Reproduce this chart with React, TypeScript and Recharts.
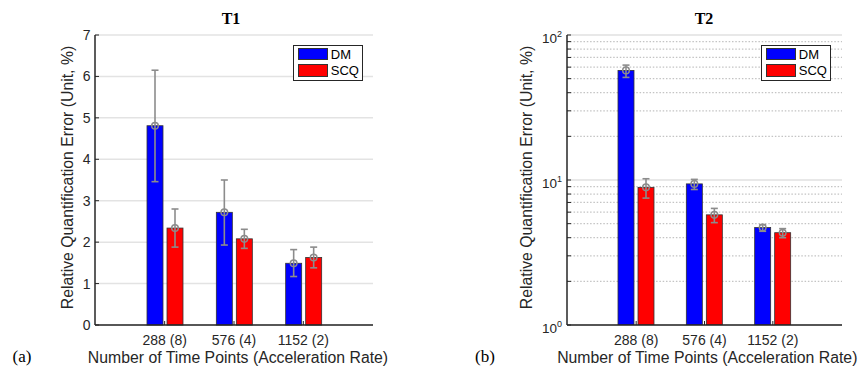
import {
  BarChart,
  Bar,
  XAxis,
  YAxis,
  CartesianGrid,
  ErrorBar,
  Legend,
} from "recharts";

const SANS = '"Liberation Sans", Arial, sans-serif';
const SERIF = '"Liberation Serif", "Times New Roman", serif';
const INK = "#262626";
const ERR = "#8c8c8c";
const DM_COLOR = "#0000ff";
const SCQ_COLOR = "#ff0000";

const categories = ["288 (8)", "576 (4)", "1152 (2)"];

// T1, linear axis
const t1Dm = [4.81, 2.72, 1.49];
const t1DmLow = [3.46, 1.93, 1.17];
const t1DmHigh = [6.15, 3.5, 1.82];
const t1Scq = [2.34, 2.08, 1.63];
const t1ScqLow = [1.88, 1.85, 1.38];
const t1ScqHigh = [2.8, 2.31, 1.88];
const t1Ticks = [0, 1, 2, 3, 4, 5, 6, 7];

// T2, log axis
const t2Dm = [57, 9.4, 4.7];
const t2DmLow = [51, 8.6, 4.43];
const t2DmHigh = [62, 10.1, 4.92];
const t2Scq = [8.9, 5.75, 4.33];
const t2ScqLow = [7.5, 5.08, 4.0];
const t2ScqHigh = [10.2, 6.37, 4.62];
const t2Major = [1, 10, 100];
const t2Minor = [2, 3, 4, 5, 6, 7, 8, 9, 20, 30, 40, 50, 60, 70, 80, 90];

function buildRows(
  dm: number[],
  dmLow: number[],
  dmHigh: number[],
  scq: number[],
  scqLow: number[],
  scqHigh: number[],
) {
  return categories.map((name, i) => ({
    name,
    DM: dm[i],
    dmErr: [dm[i] - dmLow[i], dmHigh[i] - dm[i]],
    SCQ: scq[i],
    scqErr: [scq[i] - scqLow[i], scqHigh[i] - scq[i]],
  }));
}

const t1Data = buildRows(t1Dm, t1DmLow, t1DmHigh, t1Scq, t1ScqLow, t1ScqHigh);
const t2Data = buildRows(t2Dm, t2DmLow, t2DmHigh, t2Scq, t2ScqLow, t2ScqHigh);

const barShape = (props: any) => {
  const { x, y, width, height, fill } = props;
  return (
    <g>
      <rect x={x} y={y} width={width} height={height} fill={fill} stroke="#333" strokeWidth={0.8} />
      <circle cx={x + width / 2} cy={y} r={3.3} fill="none" stroke={ERR} strokeWidth={1.5} />
    </g>
  );
};

const LinearTick = (props: any) => {
  const { x, y, payload } = props;
  return (
    <g>
      <line x1={x} x2={x + 4} y1={y} y2={y} stroke={INK} strokeWidth={1} />
      <text x={x - 4.5} y={y + 5} textAnchor="end" fontSize={14} fill={INK} fontFamily={SANS}>
        {payload.value}
      </text>
    </g>
  );
};

const LogTick = (props: any) => {
  const { x, y, payload } = props;
  const exp = Math.round(Math.log10(payload.value));
  const major = t2Major.includes(payload.value);
  return (
    <g>
      <line x1={x} x2={x + 4} y1={y} y2={y} stroke={INK} strokeWidth={1} />
      {major && (
        <text x={x - 5} y={y + 7.5} textAnchor="end" fontSize={13.5} fill={INK} fontFamily={SANS}>
          10
          <tspan dy={-5.5} fontSize={9}>
            {exp}
          </tspan>
        </text>
      )}
    </g>
  );
};

const CatTick = (props: any) => {
  const { x, y, payload } = props;
  return (
    <g>
      <line x1={x} x2={x} y1={y} y2={y - 4} stroke={INK} strokeWidth={1} />
      <text x={x} y={y + 20} textAnchor="middle" fontSize={14} fill={INK} fontFamily={SANS}>
        {payload.value}
      </text>
    </g>
  );
};

const LegendBox = (props: any) => {
  const items = props.payload || [];
  return (
    <div
      style={{
        width: 70,
        height: 36,
        border: `1.5px solid ${INK}`,
        background: "#fff",
        boxSizing: "border-box",
        position: "relative",
        fontFamily: SANS,
        fontSize: 13,
        color: "#000",
      }}
    >
      {items.map((item: any, i: number) => (
        <div
          key={item.value}
          style={{
            position: "absolute",
            left: 3.8,
            top: 1.8 + i * 16.6,
            height: 12.5,
            display: "flex",
            alignItems: "center",
            lineHeight: "13px",
          }}
        >
          <span
            style={{
              display: "inline-block",
              width: 30,
              height: 12.5,
              background: item.color,
              boxSizing: "border-box",
              border: "0.6px solid #333",
            }}
          />
          <span style={{ marginLeft: 3 }}>{item.value}</span>
        </div>
      ))}
    </div>
  );
};

interface PanelProps {
  data: any[];
  title: string;
  letter: string;
  left: number;
  width: number;
  marginLeft: number;
  marginRight: number;
  titleX: number;
  letterX: number;
  yLabelX: number;
  xLabelX: number;
  legendLeft: number;
  log?: boolean;
}

function Panel(p: PanelProps) {
  const yLabel = () => (
    <text
      x={p.yLabelX}
      y={177.5}
      transform={`rotate(-90 ${p.yLabelX} 177.5)`}
      textAnchor="middle"
      fontSize={15.8}
      fill={INK}
      fontFamily={SANS}
    >
      Relative Quantification Error (Unit, %)
    </text>
  );
  const xLabel = () => (
    <text x={p.xLabelX} y={363} textAnchor="middle" fontSize={15.8} fill={INK} fontFamily={SANS}>
      Number of Time Points (Acceleration Rate)
    </text>
  );
  return (
    <div style={{ position: "absolute", left: p.left, top: 0, width: p.width, height: 376 }}>
      <BarChart
        width={p.width}
        height={376}
        data={p.data}
        margin={{ top: 35, right: p.marginRight, bottom: 21, left: p.marginLeft }}
        barGap={4}
      >
        {p.log ? (
          <>
            <CartesianGrid
              vertical={false}
              horizontalValues={t2Minor}
              stroke="#c4c4c4"
              strokeDasharray="1.5 1.8"
              strokeWidth={1.2}
            />
            <CartesianGrid vertical={false} horizontalValues={t2Major} stroke="#e0e0e0" strokeWidth={1.5} />
          </>
        ) : (
          <CartesianGrid vertical={false} stroke="#e3e3e3" strokeWidth={1.5} />
        )}
        <XAxis
          dataKey="name"
          height={30}
          padding={{ left: 35, right: 35 }}
          axisLine={{ stroke: INK, strokeWidth: 1.5 }}
          tickLine={false}
          tickSize={0}
          tickMargin={0}
          tick={<CatTick />}
          interval={0}
          label={xLabel}
        />
        {p.log ? (
          <YAxis
            type="number"
            scale="log"
            domain={[1, 100]}
            allowDataOverflow
            ticks={[...t2Major, ...t2Minor].sort((a, b) => a - b)}
            interval={0}
            width={40}
            axisLine={{ stroke: INK, strokeWidth: 1.5 }}
            tickLine={false}
            tickSize={0}
            tickMargin={0}
            tick={<LogTick />}
            label={yLabel}
          />
        ) : (
          <YAxis
            type="number"
            domain={[0, 7]}
            ticks={t1Ticks}
            interval={0}
            width={40}
            axisLine={{ stroke: INK, strokeWidth: 1.5 }}
            tickLine={false}
            tickSize={0}
            tickMargin={0}
            tick={<LinearTick />}
            label={yLabel}
          />
        )}
        <Legend
          layout="vertical"
          align="center"
          verticalAlign="middle"
          wrapperStyle={{ left: p.legendLeft, top: 45, width: 70 }}
          content={<LegendBox />}
        />
        <Bar dataKey="DM" name="DM" fill={DM_COLOR} barSize={16} shape={barShape} isAnimationActive={false}>
          <ErrorBar dataKey="dmErr" width={3.5} stroke={ERR} strokeWidth={1.6} isAnimationActive={false} />
        </Bar>
        <Bar dataKey="SCQ" name="SCQ" fill={SCQ_COLOR} barSize={16} shape={barShape} isAnimationActive={false}>
          <ErrorBar dataKey="scqErr" width={3.5} stroke={ERR} strokeWidth={1.6} isAnimationActive={false} />
        </Bar>
      </BarChart>
      <div
        style={{
          position: "absolute",
          left: p.titleX,
          top: 9,
          transform: "translateX(-50%)",
          fontFamily: SERIF,
          fontWeight: "bold",
          fontSize: 16,
          lineHeight: "20px",
          color: "#000",
        }}
      >
        {p.title}
      </div>
      <div
        style={{
          position: "absolute",
          left: p.letterX,
          top: 347,
          fontFamily: SERIF,
          fontSize: 17,
          lineHeight: "20px",
          color: "#000",
        }}
      >
        {p.letter}
      </div>
    </div>
  );
}

export default function App() {
  return (
    <div style={{ position: "absolute", left: 0, top: 0, width: 863, height: 376, background: "#fff" }}>
      <Panel
        data={t1Data}
        title="T1"
        letter="(a)"
        left={0}
        width={430}
        marginLeft={55}
        marginRight={57}
        titleX={231}
        letterX={12.5}
        yLabelX={73.3}
        xLabelX={238}
        legendLeft={293}
      />
      <Panel
        data={t2Data}
        title="T2"
        letter="(b)"
        left={430}
        width={433}
        marginLeft={97}
        marginRight={21}
        titleX={274}
        letterX={45}
        yLabelX={101.7}
        xLabelX={277.3}
        legendLeft={331}
        log
      />
    </div>
  );
}
